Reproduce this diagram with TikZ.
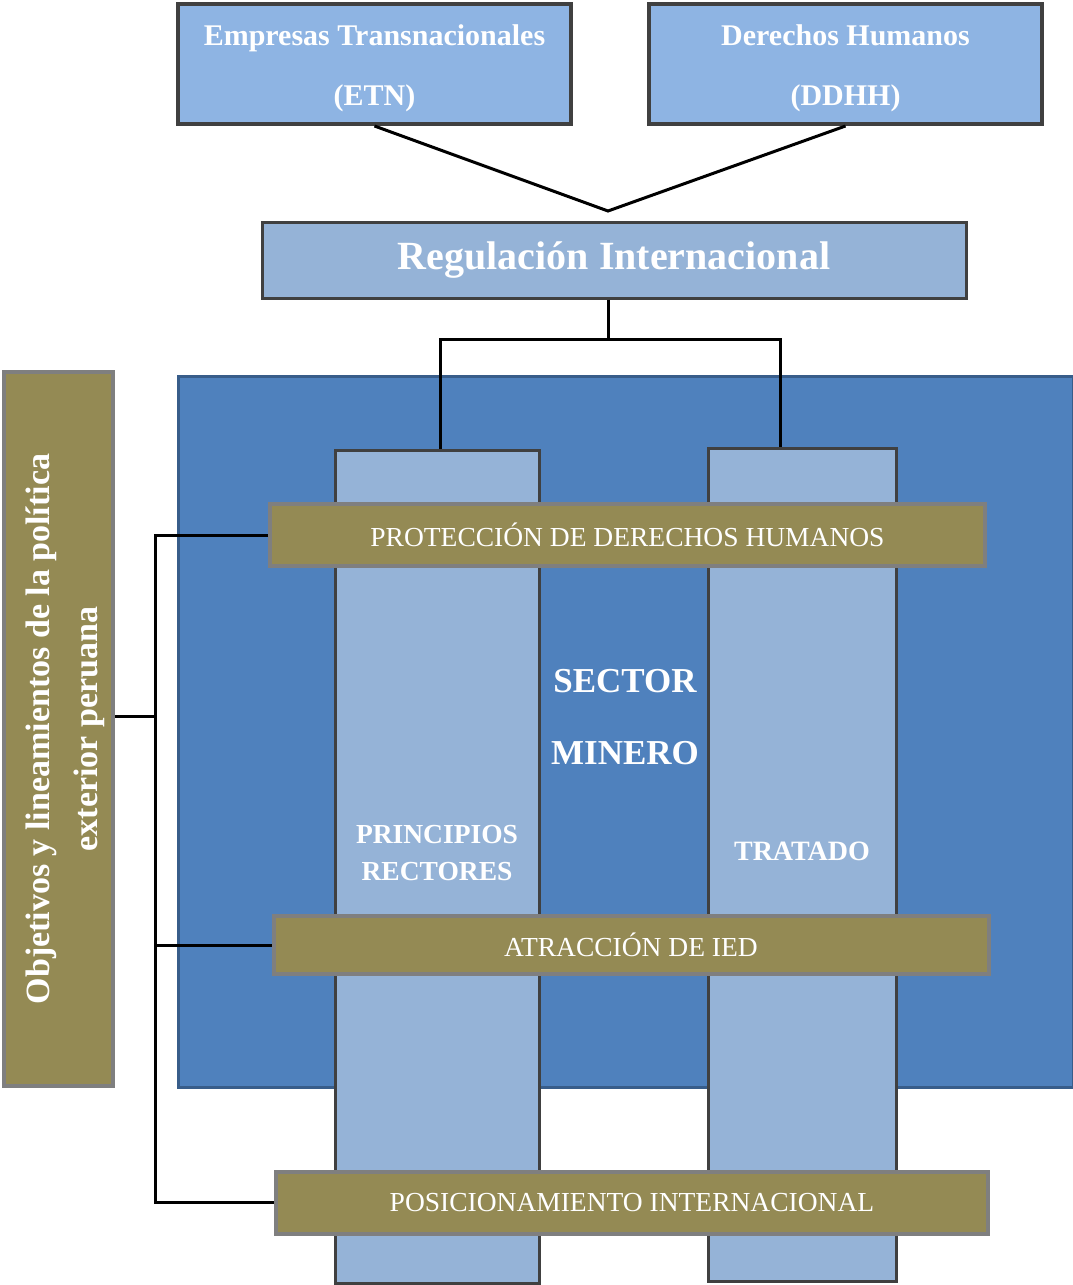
\documentclass[tikz,border=0pt]{standalone}
\usepackage{fontspec}
\setmainfont{Liberation Serif}
\usepackage{tikz}
\usetikzlibrary{positioning}
\definecolor{skyfill}{HTML}{8EB4E3}
\definecolor{palefill}{HTML}{95B3D7}
\definecolor{minefill}{HTML}{4F81BD}
\definecolor{mineline}{HTML}{385D8A}
\definecolor{olivefill}{HTML}{948A54}
\definecolor{darkline}{HTML}{404040}
\definecolor{greyline}{HTML}{7F7F7F}
\tikzset{%
  top box/.style={
    draw=darkline,
    fill=skyfill,
    line width=4pt,
    minimum width=393pt,
    minimum height=120pt,
    align=center,
    text=white,
    font=\bfseries\fontsize{30}{60}\selectfont
  },
  pillar/.style={
    draw=darkline,
    fill=palefill,
    line width=3pt,
    minimum height=833pt
  },
  band/.style={
    draw=greyline,
    fill=olivefill,
    line width=4pt,
    minimum width=715pt,
    minimum height=62pt,
    text=white,
    font=\fontsize{27.5}{30}\selectfont
  },
  link/.style={
    line width=3pt,
    black
  },
}

\begin{document}
\begin{tikzpicture}[x=1pt, y=-1pt]
\useasboundingbox (0,0) rectangle (1073,1285);
    % top level
    \node[top box] (etn) at (374.5,64) {\rule{0pt}{29pt}Empresas Transnacionales\\(ETN)};
    \node[top box] (ddhh) at (845.5,64) {\rule{0pt}{29pt}Derechos Humanos\\(DDHH)};
    \node[top box, fill=palefill, line width=3pt, minimum width=704pt, minimum height=76pt,
          font=\bfseries\fontsize{40}{44}\selectfont] (reg) at (614,260) {Regulación Internacional};
    \coordinate (apex) at (608,211);
    \draw[link] (etn.south) -- (apex) -- (ddhh.south);

    % sector minero
    \node[draw=mineline, fill=minefill, line width=3pt, minimum width=895pt, minimum height=711pt] (sector) at (625.5,731.5) {};
    \node[pillar, minimum width=204pt] (pl) at (437,866.5) {};
    \node[pillar, minimum width=188pt] (pr) at (802,865) {};
    \node[text=white, align=center, font=\bfseries\fontsize{35}{72}\selectfont] (sm) at (625,717) {SECTOR\\MINERO};
    \node[text=white, align=center, font=\bfseries\fontsize{27.5}{37}\selectfont] (pr1) at (437,853) {PRINCIPIOS\\RECTORES};
    \node[text=white, font=\bfseries\fontsize{28}{30}\selectfont] (tr) at (802,851) {TRATADO};

    \coordinate (fork) at (608,339);
    \draw[link] (reg.south -| fork) -- (fork);
    \draw[link] ([xshift=3pt]pl.north) |- (fork) -| ([xshift=-22pt]pr.north);

    % bands
    \node[band] (b1) at (627.5,535) {PROTECCIÓN DE DERECHOS HUMANOS};
    \node[band, minimum height=58pt] (b2) at (631,945) {ATRACCIÓN DE IED};
    \node[band, minimum width=712pt] (b3) at (632,1202.5) {POSICIONAMIENTO INTERNACIONAL};

    % objetivos
    \node[draw=greyline, fill=olivefill, line width=4pt, rotate=90, minimum width=714pt, minimum height=109pt,
          text=white, align=center, font=\bfseries\fontsize{34}{48}\selectfont] (obj) at (58.5,729)
          {\rule{0pt}{38pt}Objetivos y lineamientos de la política\\exterior peruana};
    \coordinate (spine) at (155,716);
    \draw[link] (obj.south |- spine) -- (spine);
    \draw[link] (b1.west) -| (spine) |- (b3.west);
    \draw[link] (b2.west) -- (b2.west -| spine);
\end{tikzpicture}
\end{document}
